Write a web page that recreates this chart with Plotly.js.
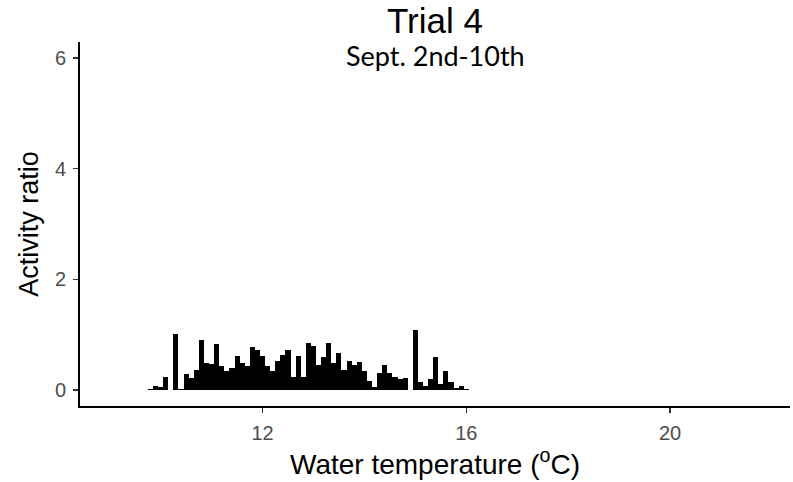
<!DOCTYPE html>
<html>
<head>
<meta charset="utf-8">
<script src="https://cdn.plot.ly/plotly-3.0.1.min.js"></script>
<style>html,body{margin:0;padding:0;background:#fff;}#chart{width:793px;height:482px;}</style>
</head>
<body>
<div id="chart"></div>
<script>
// Water temperature bins (°C) and activity ratio per bin
const temperature = [
  9.8, 9.9, 10.0, 10.1, 10.2, 10.3, 10.4, 10.5, 10.6, 10.7,
  10.8, 10.9, 11.0, 11.1, 11.2, 11.3, 11.4, 11.5, 11.6, 11.7,
  11.8, 11.9, 12.0, 12.1, 12.2, 12.3, 12.4, 12.5, 12.6, 12.7,
  12.8, 12.9, 13.0, 13.1, 13.2, 13.3, 13.4, 13.5, 13.6, 13.7,
  13.8, 13.9, 14.0, 14.1, 14.2, 14.3, 14.4, 14.5, 14.6, 14.7,
  14.8, 14.9, 15.0, 15.1, 15.2, 15.3, 15.4, 15.5, 15.6, 15.7,
  15.8, 15.9, 16.0
];
const activityRatio = [
  0.01, 0.07, 0.05, 0.23, 0.00, 1.01, 0.02, 0.29, 0.22, 0.36,
  0.90, 0.48, 0.47, 0.83, 0.44, 0.34, 0.40, 0.62, 0.48, 0.43,
  0.78, 0.73, 0.62, 0.43, 0.35, 0.52, 0.63, 0.73, 0.23, 0.61,
  0.23, 0.84, 0.80, 0.45, 0.60, 0.84, 0.49, 0.66, 0.36, 0.52,
  0.46, 0.51, 0.34, 0.17, 0.06, 0.30, 0.45, 0.30, 0.23, 0.19,
  0.22, 0.00, 1.09, 0.14, 0.07, 0.19, 0.60, 0.11, 0.35, 0.14,
  0.04, 0.07, 0.02
];
const xTicks = [12, 16, 20];
const yTicks = [0, 2, 4, 6];
const titleText = "Trial 4";
const subtitleText = "Sept. 2nd-10th";
const xTitle = "Water temperature (<sup>o</sup>C)";
const yTitle = "Activity ratio";

const sans = "Liberation Sans, Arial, Helvetica, sans-serif";

const trace = {
  type: "bar",
  x: temperature,
  y: activityRatio,
  width: 0.1,
  marker: {color: "#000000", line: {width: 0}},
  hoverinfo: "x+y"
};

const axisCommon = {
  showgrid: false,
  zeroline: false,
  showline: true,
  linecolor: "#000000",
  linewidth: 2,
  ticks: "outside",
  ticklen: 5,
  tickwidth: 1.2,
  tickcolor: "#333333",
  ticklabelstandoff: 3,
  tickfont: {family: sans, size: 20, color: "#4d4d4d"},
  fixedrange: true
};

const layout = {
  width: 793,
  height: 482,
  margin: {l: 80, r: 3, t: 42, b: 76},
  paper_bgcolor: "#ffffff",
  plot_bgcolor: "#ffffff",
  bargap: 0,
  showlegend: false,
  title: {
    text: titleText,
    font: {family: sans, size: 35, color: "#000000"},
    x: 0.5, xref: "paper", xanchor: "center",
    y: 1 - 21/482, yref: "container", yanchor: "middle"
  },
  xaxis: Object.assign({}, axisCommon, {
    range: [8.417, 22.355],
    tickmode: "array",
    tickvals: xTicks,
    ticktext: xTicks.map(String),
    title: {text: xTitle, font: {family: sans, size: 28, color: "#000000"}, standoff: 5}
  }),
  yaxis: Object.assign({}, axisCommon, {
    range: [-0.29, 6.29],
    tickmode: "array",
    tickvals: yTicks,
    ticktext: yTicks.map(String),
    title: {text: yTitle, font: {family: sans, size: 27, color: "#000000"}, standoff: 8}
  }),
  annotations: [{
    text: subtitleText,
    xref: "paper", yref: "paper",
    x: 0.5, y: (406 - 56) / 364,
    xanchor: "center", yanchor: "middle",
    showarrow: false,
    font: {family: "Lato, 'Open Sans', sans-serif", size: 27, color: "#000000"}
  }]
};

Plotly.newPlot("chart", [trace], layout, {displayModeBar: false, staticPlot: true});
</script>
</body>
</html>
